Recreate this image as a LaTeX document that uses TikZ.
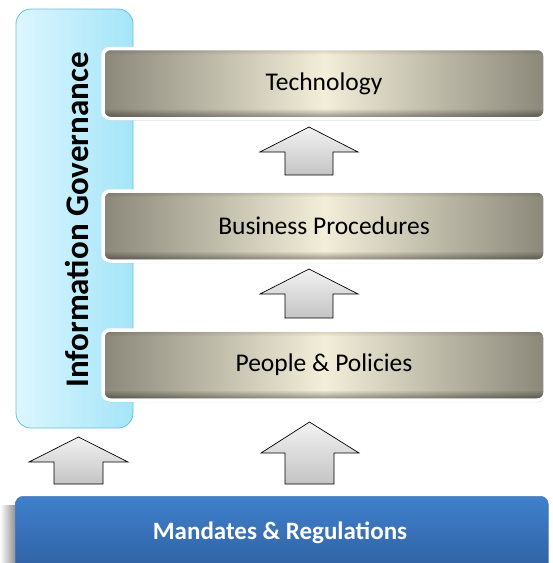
\documentclass[tikz,border=0pt]{standalone}
\usepackage{fontspec}
\setmainfont{Carlito}
\usetikzlibrary{shadows,fadings,calc}
\definecolor{igleft}{HTML}{DCF6FF}
\definecolor{igright}{HTML}{A4E5F8}
\definecolor{igborder}{HTML}{6BBFD6}
\definecolor{gedge}{HTML}{8B887A}
\definecolor{gmid}{HTML}{F2EED9}
\definecolor{mtop}{HTML}{3F80CC}
\definecolor{mbot}{HTML}{2F5E9E}
\definecolor{atop}{HTML}{F2F2F2}
\definecolor{abot}{HTML}{C4C4C4}
\tikzfading[name=botdark, top color=transparent!100, bottom color=transparent!0]
\tikzfading[name=topdark, top color=transparent!0, bottom color=transparent!100]
\tikzset{
  graybox/.style={draw=white, line width=3.5pt, rounded corners=7pt, outer sep=0pt,
    left color=gedge, right color=gedge, middle color=gmid,
    minimum width=442pt, minimum height=70pt, inner sep=0pt,
    font=\fontsize{25.5}{30}\selectfont,
    drop shadow={shadow xshift=0pt, shadow yshift=-2pt, fill=black!35, opacity=0.5}},
  blockarrow/.style={draw=black, line width=0.7pt, top color=atop, bottom color=abot, line join=miter},
}
\newcommand{\bevel}[1]{%
  \begin{scope}
    \clip[rounded corners=6pt] ($(#1.south west)+(1.75,-1.75)$) rectangle ($(#1.north east)+(-1.75,1.75)$);
    \fill[black, opacity=0.45, path fading=botdark] ($(#1.south west)+(0,-10)$) rectangle (#1.south east);
    \fill[black, opacity=0.15, path fading=topdark] (#1.north west) rectangle ($(#1.north east)+(0,6)$);
  \end{scope}}
\begin{document}
\begin{tikzpicture}[x=1pt,y=-1pt]
\useasboundingbox (0,0) rectangle (553,563);
% Information governance
\node[draw=igborder, line width=0.8pt, rounded corners=15pt, left color=igleft, right color=igright,
  minimum width=117pt, minimum height=419pt, inner sep=0pt] (ig) at (74.5,218.5) {};
\node[rotate=90, font=\fontsize{33}{38}\selectfont\bfseries] (igt) at (77,220) {Information Governance};
% layers
\node[graybox] (tech) at (324,83.5) {Technology};
\node[graybox] (bp) at (324,226) {Business Procedures};
\node[graybox] (pp) at (324,365) {People \& Policies};
\bevel{tech}\bevel{bp}\bevel{pp}
% arrows
\draw[blockarrow] (309,127) -- (358,152) -- (333,152) -- (333,175) -- (285,175) -- (285,152) -- (260,152) -- cycle;
\draw[blockarrow] (309,269) -- (358,294) -- (333,294) -- (333,318) -- (285,318) -- (285,294) -- (260,294) -- cycle;
\draw[blockarrow] (78.5,437) -- (128,462) -- (103,462) -- (103,484) -- (54,484) -- (54,462) -- (29,462) -- cycle;
\draw[blockarrow] (309.5,422) -- (359,453) -- (334,453) -- (334,484) -- (285,484) -- (285,453) -- (261,453) -- cycle;
% mandates
\shade[left color=white, right color=black!45] (0,505) rectangle (16,563);
\node[draw=mbot!80!white, line width=0.6pt, rounded corners=8pt, top color=mtop, bottom color=mbot,
  minimum width=533pt, minimum height=82pt, inner sep=0pt, anchor=north west] (mr) at (15,496) {};
\node[text=white, font=\fontsize{25}{30}\selectfont\bfseries] (mrt) at (280,533) {Mandates \& Regulations};
\end{tikzpicture}
\end{document}
